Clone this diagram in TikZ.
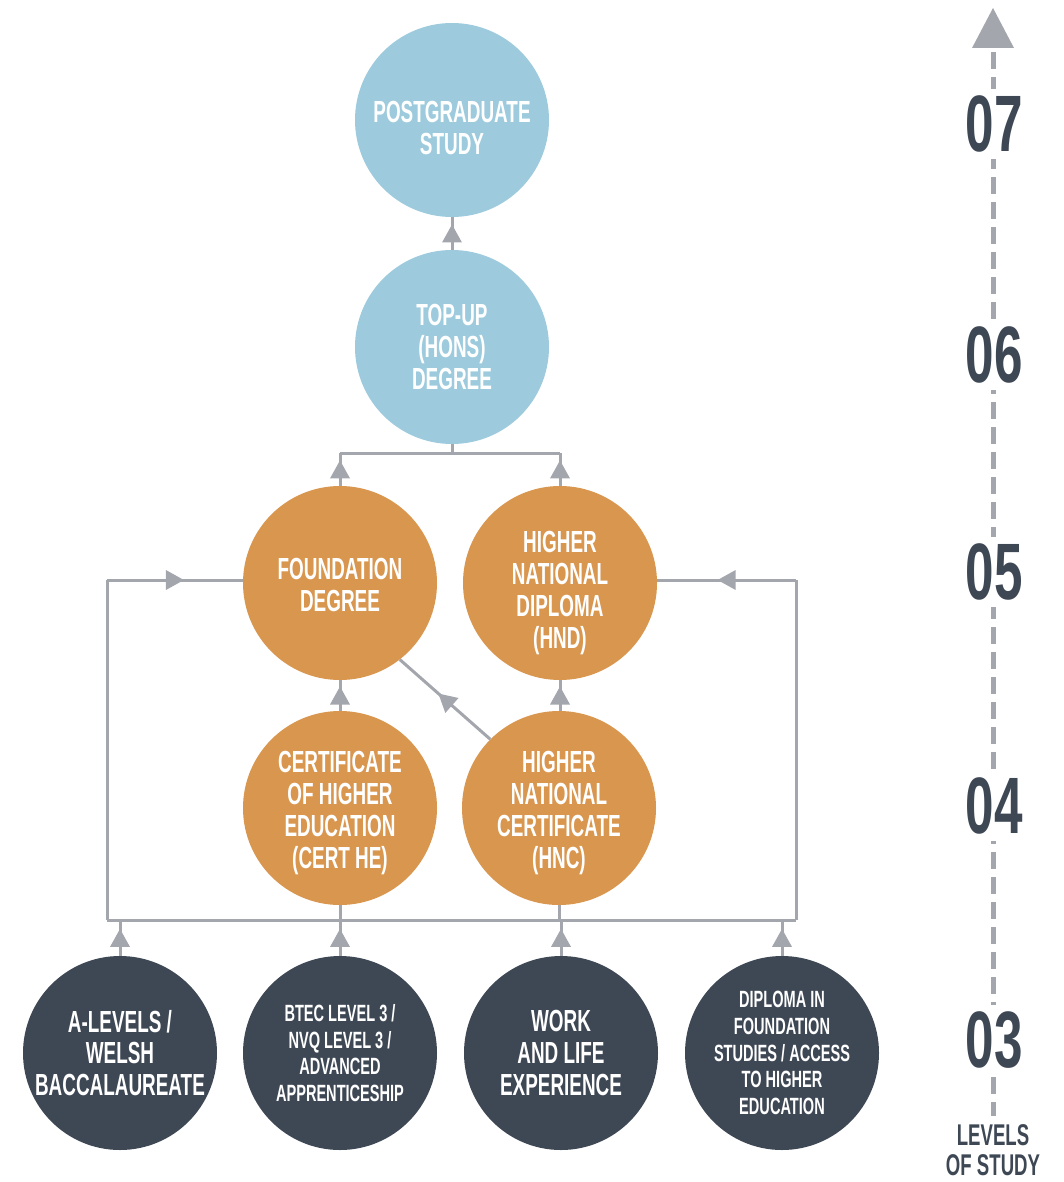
\documentclass[tikz,border=0pt]{standalone}
\usepackage{fontspec}
\setmainfont{Liberation Sans}
\newfontfamily\condfont[FakeStretch=0.62]{Liberation Sans}
\newfontfamily\numfont[FakeStretch=0.64]{Liberation Sans}
\usetikzlibrary{decorations.markings}
\definecolor{cblue}{HTML}{9DCBDD}
\definecolor{corange}{HTML}{D9964F}
\definecolor{cdark}{HTML}{3E4855}
\definecolor{cgray}{HTML}{A3A6AC}
\begin{document}
\begin{tikzpicture}[x=1pt,y=-1pt,
  bigtxt/.style={font=\condfont\bfseries\fontsize{30.5}{31.8}\selectfont},
  smalltxt/.style={font=\condfont\bfseries\fontsize{23.5}{26.7}\selectfont},
  circ/.style={circle, minimum size=194pt, inner sep=0pt, align=center, text=white, bigtxt},
  blue/.style={circ, fill=cblue},
  orange/.style={circ, fill=corange},
  dark/.style={circ, fill=cdark},
  inlbl/.style={text=white, align=center, bigtxt},
  conn/.style={draw, color=cgray, line width=3pt},
  midarrow/.style={postaction={decorate}, decoration={markings,
    mark=at position 0.5 with {\fill (9pt,0pt) -- (-9pt,10pt) -- (-9pt,-10pt) -- cycle;}}},
  num/.style={fill=white, inner xsep=2pt, inner ysep=7pt, text=cdark,
    font=\numfont\bfseries\fontsize{80}{80}\selectfont},
]
\path[use as bounding box] (0,0) rectangle (1063,1182);

% circles
\node[blue, label={[inlbl, yshift=-8pt]center:{POSTGRADUATE\\STUDY}}] (pg) at (452,120) {};
\node[blue] (top) at (452,347) {TOP-UP\\(HONS)\\DEGREE};
\node[orange, label={[inlbl, yshift=-2pt]center:{FOUNDATION\\DEGREE}}] (fd) at (340,583) {};
\node[orange, label={[inlbl, yshift=-10pt]center:{HIGHER\\NATIONAL\\DIPLOMA\\(HND)}}] (hnd) at (560,583) {};
\node[orange, label={[inlbl, yshift=-5pt]center:{CERTIFICATE\\OF HIGHER\\EDUCATION\\(CERT HE)}}] (cert) at (340,808) {};
\node[orange, label={[inlbl, yshift=-5pt]center:{HIGHER\\NATIONAL\\CERTIFICATE\\(HNC)}}] (hnc) at (559,808) {};
\node[dark] (alev) at (120,1053) {A-LEVELS /\\WELSH\\BACCALAUREATE};
\node[dark, smalltxt] (btec) at (340,1053) {BTEC LEVEL 3 /\\NVQ LEVEL 3 /\\ADVANCED\\APPRENTICESHIP};
\node[dark] (work) at (561,1053) {WORK\\AND LIFE\\EXPERIENCE};
\node[dark, smalltxt] (dip) at (782,1053) {DIPLOMA IN\\FOUNDATION\\STUDIES / ACCESS\\TO HIGHER\\EDUCATION};

% junction coordinates
\coordinate (tj) at (452,453);
\coordinate (busL) at (107,920);
\coordinate (busR) at (796,920);
\coordinate (cl) at (107,580);
\coordinate (cr) at (796,580);

% connectors
\draw[conn, midarrow] (top) -- (pg);
\draw[conn] (top.south) -- (tj);
\draw[conn] (fd.north |- tj) -- (hnd.north |- tj);
\draw[conn, midarrow] (fd.north) -- (fd.north |- tj);
\draw[conn, midarrow] (hnd.north) -- (hnd.north |- tj);
\draw[conn, midarrow] (cert) -- (fd);
\draw[conn, midarrow] (hnc.north -| hnd) -- (hnd);
\draw[conn, midarrow] (hnc.135) -- (fd.-52);

\draw[conn] (busL) -- (busR);
\draw[conn] (busL) -- (cl);
\draw[conn, midarrow] (cl) -- (cl -| fd.west);
\draw[conn] (busR) -- (cr);
\draw[conn, midarrow] (cr) -- (cr -| hnd.east);
\draw[conn] (cert.south) -- (cert.south |- busL);
\draw[conn] (hnc.south) -- (hnc.south |- busL);
\draw[conn, midarrow] (alev.north) -- (alev.north |- busL);
\draw[conn, midarrow] (btec.north) -- (btec.north |- busL);
\draw[conn, midarrow] (work.north) -- (work.north |- busL);
\draw[conn, midarrow] (dip.north) -- (dip.north |- busL);

% levels axis
\fill[cgray] (993,8) -- (1014,48) -- (972,48) -- cycle;
\draw[cgray, line width=5pt, dash pattern=on 17pt off 8pt] (993,52) -- (993,1116);
\node[num] (l7) at (994,124) {07};
\node[num] (l6) at (994,355) {06};
\node[num] (l5) at (994,572) {05};
\node[num] (l4) at (994,806) {04};
\node[num] (l3) at (994,1040) {03};
\node[text=cdark, align=center, inner sep=0pt,
  font=\condfont\bfseries\fontsize{30}{30}\selectfont] (lvl) at (993,1150) {LEVELS\\OF STUDY};
\end{tikzpicture}
\end{document}
